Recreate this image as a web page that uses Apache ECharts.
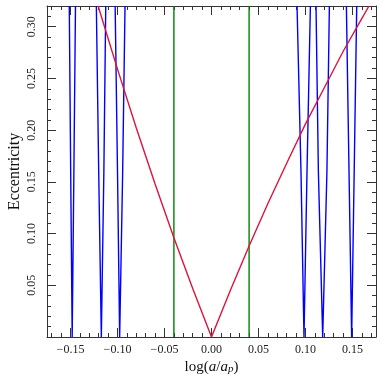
<!DOCTYPE html>
<html>
<head>
<meta charset="utf-8">
<script src="https://cdn.jsdelivr.net/npm/echarts@6/dist/echarts.min.js"></script>
<style>
html, body { margin: 0; padding: 0; background: #fff; }
#chart { width: 382px; height: 382px; }
</style>
</head>
<body>
<div id="chart"></div>
<script>
// eccentricity limits where the blue resonance arms were read
const armEcc = [0.32, 0.16, 0, 0.16, 0.32];
// x positions of each blue V (left arm top -> bottom -> right arm top)
const resV1 = [-0.1513, -0.1498, -0.1482, -0.1464, -0.1447];
const resV2 = [-0.1225, -0.1200, -0.1172, -0.1145, -0.1125];
const resV3 = [-0.1025, -0.1000, -0.0977, -0.0945, -0.0920];
const resV4 = [0.0910, 0.0952, 0.0984, 0.1016, 0.1052];
const resV5 = [0.1112, 0.1137, 0.1183, 0.1228, 0.1254];
const resV6 = [0.1435, 0.1463, 0.1491, 0.1518, 0.1545];

// red orbit-crossing curve
const redX = [-0.1206, -0.10, -0.08, -0.06, -0.04, -0.02, 0, 0.02, 0.04, 0.06, 0.08, 0.10, 0.12, 0.14, 0.16, 0.1675];
const redE = [0.320, 0.259, 0.202, 0.148, 0.096, 0.047, 0, 0.045, 0.088, 0.129, 0.168, 0.206, 0.241, 0.276, 0.308, 0.320];

// green vertical limits
const greenX = [-0.04, 0.04];
const greenE = [0, 0.32];

const chart = echarts.init(document.getElementById('chart'));

const font = 'Liberation Serif';
const axisCol = '#333';

function pairs(xs, ys) {
    return xs.map((x, i) => [x, ys[i]]);
}

const series = [];
[resV1, resV2, resV3, resV4, resV5, resV6].forEach(v => {
    series.push({
        type: 'line', data: pairs(v, armEcc), symbol: 'none',
        lineStyle: { color: '#0000ff', width: 1.4 }, z: 3
    });
});
greenX.forEach(gx => {
    series.push({
        type: 'line', data: greenE.map(e => [gx, e]), symbol: 'none',
        lineStyle: { color: '#008000', width: 1.4 }, z: 2
    });
});
series.push({
    type: 'line', data: pairs(redX, redE), symbol: 'none',
    lineStyle: { color: '#dc143c', width: 1.4 }, z: 4
});

const xCommon = {
    type: 'value', min: -0.175, max: 0.175, splitNumber: 7,
    axisLine: { show: true, onZero: false, lineStyle: { color: axisCol, width: 1 } },
    axisTick: { show: true, inside: true, length: 9, lineStyle: { color: axisCol } },
    minorTick: { show: true, splitNumber: 5, length: 4, lineStyle: { color: axisCol } },
    splitLine: { show: false }
};
const yCommon = {
    type: 'value', min: 0, max: 0.32, interval: 0.05,
    axisLine: { show: true, onZero: false, lineStyle: { color: axisCol, width: 1 } },
    axisTick: { show: true, inside: true, length: 9, lineStyle: { color: axisCol } },
    minorTick: { show: true, splitNumber: 5, length: 4, lineStyle: { color: axisCol } },
    splitLine: { show: false }
};

chart.setOption({
    animation: false,
    grid: { left: 47, right: 6, top: 6, bottom: 45, containLabel: false, outerBoundsMode: 'none' },
    xAxis: [
        Object.assign({}, xCommon, {
            position: 'bottom',
            axisLabel: {
                margin: 7, color: '#222', fontFamily: font, fontSize: 12,
                formatter: v => Math.abs(v) > 0.16 ? '' : (v < -1e-9 ? '\u2212' : '') + Math.abs(v).toFixed(2)
            },
            name: '{n|log(}{i|a}{n|/}{i|a}{s|p}{n|)}',
            nameLocation: 'middle', nameGap: 22, nameMoveOverlap: false,
            nameTextStyle: {
                rich: {
                    n: { fontFamily: font, fontSize: 15, color: '#111' },
                    i: { fontFamily: font, fontSize: 15, fontStyle: 'italic', color: '#111' },
                    s: { fontFamily: font, fontSize: 11, fontStyle: 'italic', color: '#111', padding: [5, 0, 0, 0] }
                }
            }
        }),
        Object.assign({}, xCommon, { position: 'top', axisLabel: { show: false } })
    ],
    yAxis: [
        Object.assign({}, yCommon, {
            position: 'left',
            axisLabel: {
                rotate: 90, margin: 9, color: '#222', fontFamily: font, fontSize: 12,
                formatter: v => (v < 0.01 || v > 0.31) ? '' : v.toFixed(2)
            },
            name: 'Eccentricity', nameLocation: 'middle', nameGap: 24, nameMoveOverlap: false,
            nameTextStyle: { fontFamily: font, fontSize: 16, color: '#111' }
        }),
        Object.assign({}, yCommon, { position: 'right', axisLabel: { show: false } })
    ],
    series: series
});
</script>
</body>
</html>
